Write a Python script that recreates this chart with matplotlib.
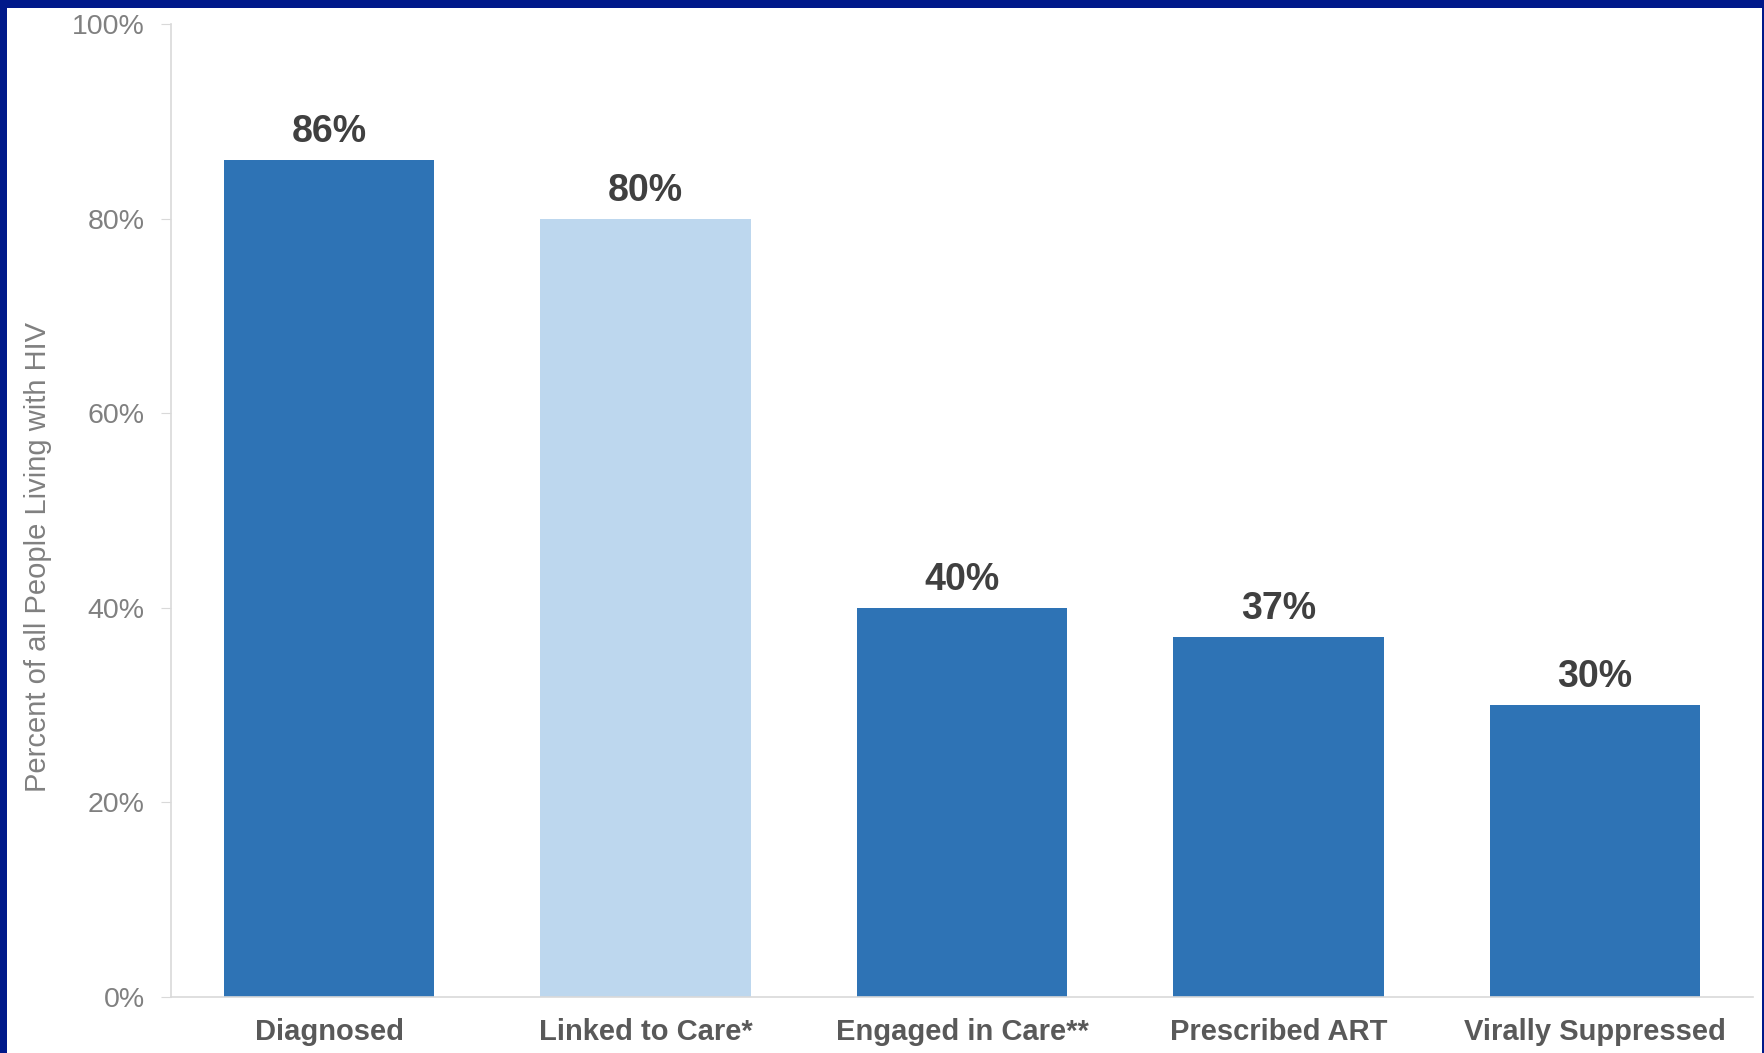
import matplotlib.pyplot as plt
from matplotlib.patches import Rectangle

categories = ["Diagnosed", "Linked to Care*", "Engaged in Care**", "Prescribed ART", "Virally Suppressed"]
values = [86, 80, 40, 37, 30]
colors = ["#2E73B5", "#BDD7EE", "#2E73B5", "#2E73B5", "#2E73B5"]
yticks = [0, 20, 40, 60, 80, 100]

plt.rcParams['font.family'] = ['Liberation Sans', 'DejaVu Sans']

W, H = 1765, 1053
fig = plt.figure(figsize=(W / 100, H / 100), dpi=100)
fig.patch.set_facecolor("white")

# navy frame: top, left and right strips
navy = "#00198A"
for (x0, y0, w, h) in [(0, H - 8, W, 8), (0, 0, 7, H), (W - 3, 0, 3, H)]:
    fig.patches.append(Rectangle((x0 / W, y0 / H), w / W, h / H,
                                 transform=fig.transFigure, facecolor=navy,
                                 edgecolor="none", zorder=5))

ax = fig.add_axes([171 / W, 1 - 997 / H, (1753 - 171) / W, (997 - 24) / H])
ax.set_facecolor("white")

x = range(len(categories))
ax.bar(x, values, width=0.665, color=colors, zorder=2)

for xi, v in zip(x, values):
    ax.annotate(f"{v}%", (xi, v), xytext=(0, 7), textcoords="offset points",
                ha="center", va="bottom", fontsize=27, fontweight="bold", color="#404040")

ax.set_xlim(-0.5, len(categories) - 0.5)
ax.set_ylim(0, 100)
ax.set_yticks(yticks)
ax.set_yticklabels([f"{t}%" for t in yticks], fontsize=20.5, color="#808080")
ax.set_xticks(list(x))
ax.set_xticklabels(categories, fontsize=21, fontweight="bold", color="#595959")
ax.tick_params(axis="x", length=0, pad=15)
ax.tick_params(axis="y", length=7, color="#D9D9D9", pad=12)

for side in ["top", "right"]:
    ax.spines[side].set_visible(False)
for side in ["left", "bottom"]:
    ax.spines[side].set_color("#D9D9D9")
    ax.spines[side].set_linewidth(1.2)

ax.set_ylabel("Percent of all People Living with HIV", fontsize=21, color="#808080")
ax.yaxis.set_label_coords(-0.075, 0.452)

fig.savefig("out.png", dpi=100, facecolor=fig.get_facecolor())
